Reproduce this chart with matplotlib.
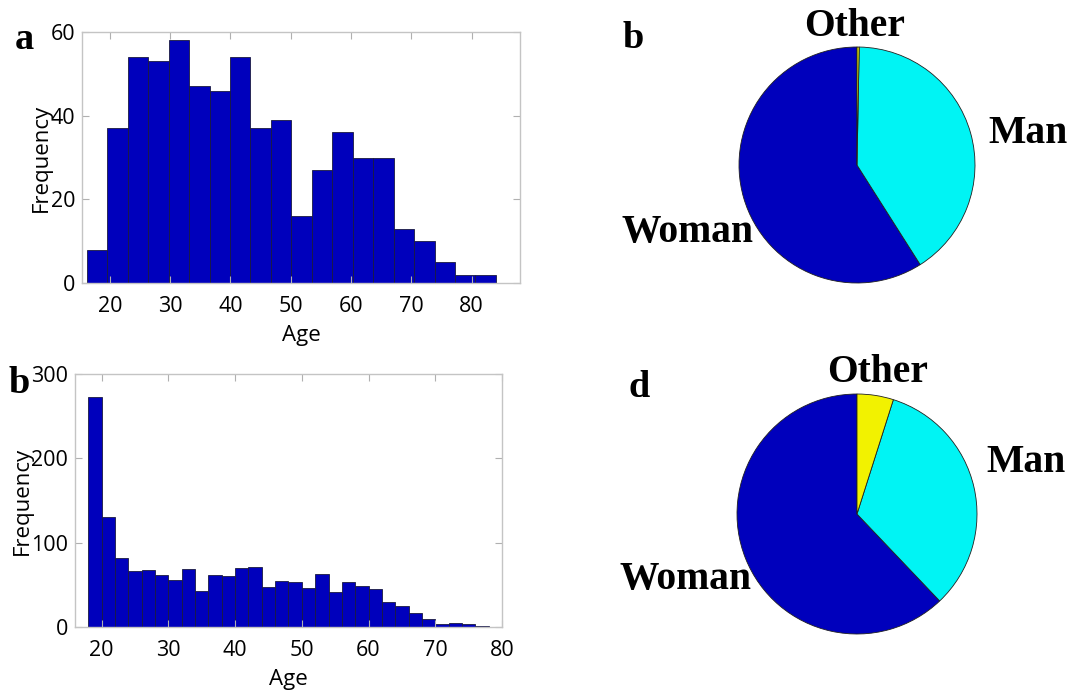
import numpy as np
import matplotlib
matplotlib.use('Agg')
import matplotlib.pyplot as plt

# Panel a: age histogram (20 bins)
counts_a = [8, 37, 54, 53, 58, 47, 46, 54, 37, 39, 16, 27, 36, 30, 30, 13, 10, 5, 2, 2]
edge_start_a, edge_end_a = 16.2, 84.0

# Panel b (bottom): age histogram (30 bins of width 2)
counts_b = [273, 130, 82, 66, 68, 62, 56, 69, 43, 62, 61, 70, 71, 47, 54,
            53, 46, 63, 42, 53, 49, 45, 30, 25, 17, 10, 3, 5, 4, 1]
edge_start_b, edge_end_b = 18, 78

# Gender pies
gender_labels = ['Woman', 'Man', 'Other']
gender_top = [59.0, 40.7, 0.3]
gender_bottom = [62.1, 33.0, 4.9]

W, H = 1069, 691
fig = plt.figure(figsize=(W / 100, H / 100), dpi=100)

bar_color = '#0000BC'
pie_colors = ['#0000BC', '#00F4F4', '#F2F200']
tick_font = 'Open Sans'
serif = 'Liberation Serif'


def px_axes(x0, y0, x1, y1):
    # axes from pixel box (top-left origin)
    return fig.add_axes([x0 / W, 1 - y1 / H, (x1 - x0) / W, (y1 - y0) / H])


def style_hist(ax):
    for s in ax.spines.values():
        s.set_color('#c4c4c4')
        s.set_linewidth(1.0)
    ax.tick_params(direction='in', length=5, width=0.8, color='#b0b0b0',
                   top=True, right=True, labelsize=15.5)
    ax.tick_params(axis='x', pad=9)
    ax.tick_params(axis='y', pad=5)
    for lab in ax.get_xticklabels() + ax.get_yticklabels():
        lab.set_fontfamily(tick_font)
    ax.set_xlabel('Age', fontsize=16, fontfamily=tick_font, labelpad=6)
    ax.set_ylabel('Frequency', fontsize=16, fontfamily=tick_font, labelpad=-1)


# Top histogram
ax1 = px_axes(82, 32, 520, 283)
edges_a = np.linspace(edge_start_a, edge_end_a, len(counts_a) + 1)
ax1.bar(edges_a[:-1], counts_a, width=np.diff(edges_a), align='edge',
        color=bar_color, edgecolor='#1a1a40', linewidth=0.6)
ax1.set_xlim(15.4, 88)
ax1.set_ylim(0, 60)
ax1.set_xticks(range(20, 81, 10))
ax1.set_yticks([0, 20, 40, 60])
style_hist(ax1)

# Bottom histogram
ax2 = px_axes(75, 374, 502, 627)
edges_b = np.linspace(edge_start_b, edge_end_b, len(counts_b) + 1)
ax2.bar(edges_b[:-1], counts_b, width=np.diff(edges_b), align='edge',
        color=bar_color, edgecolor='#1a1a40', linewidth=0.6)
ax2.set_xlim(16, 80)
ax2.set_ylim(0, 300)
ax2.set_xticks(range(20, 81, 10))
ax2.set_yticks([0, 100, 200, 300])
style_hist(ax2)


def draw_pie(cx, cy, r, values, label_pos):
    ax = px_axes(cx - r, cy - r, cx + r, cy + r)
    wedges, texts = ax.pie(values, labels=gender_labels, colors=pie_colors,
                           startangle=90, counterclock=True,
                           wedgeprops=dict(edgecolor='#202020', linewidth=0.6))
    ax.set_xlim(-1, 1)
    ax.set_ylim(-1, 1)
    ax.set_aspect('equal')
    for t, lab in zip(texts, gender_labels):
        x, y, ha = label_pos[lab]
        t.set_position((x, y))
        t.set_ha(ha)
        t.set_va('center')
        t.set_fontfamily(serif)
        t.set_fontweight('bold')
        t.set_fontsize(28.5)
    return ax


draw_pie(857, 165, 118, gender_top,
         {'Other': (-0.02, 1.17, 'center'), 'Man': (1.11, 0.27, 'left'),
          'Woman': (-0.88, -0.57, 'right')})
draw_pie(857, 514, 120, gender_bottom,
         {'Other': (0.175, 1.18, 'center'), 'Man': (1.075, 0.43, 'left'),
          'Woman': (-0.875, -0.55, 'right')})

# Panel letters
for letter, x, y in [('a', 15, 49), ('b', 9, 393), ('b', 623, 48), ('d', 628, 397)]:
    fig.text(x / W, 1 - y / H, letter, fontsize=27.5, fontweight='bold',
             fontfamily=serif, ha='left', va='baseline')

fig.savefig('out.png', dpi=100)
